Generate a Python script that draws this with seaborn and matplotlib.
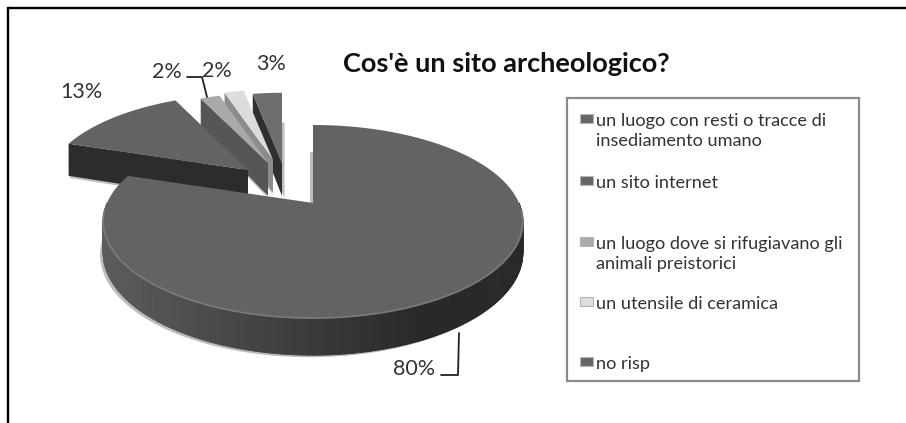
import numpy as np
import matplotlib
matplotlib.use("Agg")
import matplotlib.pyplot as plt
import seaborn as sns
from matplotlib.collections import PolyCollection
from matplotlib.patches import Rectangle
from matplotlib.path import Path
from matplotlib.transforms import Affine2D, Transform

# ---- data ----
categories = [
    "un luogo con resti o tracce di\ninsediamento umano",
    "un sito internet",
    "un luogo dove si rifugiavano gli\nanimali preistorici",
    "un utensile di ceramica",
    "no risp",
]
values = [80, 13, 2, 2, 3]
title = "Cos'è un sito archeologico?"

# ---- style ----
top_colors = ["#636363", "#636363", "#a9a9a9", "#dcdcdc", "#6e6e6e"]
face_colors = ["#3a3a3a", "#2c2c2c", "#565656", "#8c8c8c", "#303030"]
key_colors = ["#666666", "#666666", "#ababab", "#dddddd", "#666666"]
text_color = "#333333"

# ---- layout (pixels) ----
apex = [(313, 203), (248, 170), (268, 163), (273, 160), (282, 163)]
scale = [1.0, 0.97, 0.9, 0.9, 0.9]
depth = [30, 34, 33, 33, 33]
shadow_dx = [-3, 0, 0, 0, 2.5]
label_pos = [(414, 369), (81, 92), (167, 72), (217, 71), (271, 64)]
legend_y = [122, 184, 245, 305, 365]
K, BX, BY = 0.192, 206, 93

sns.set_theme(style="white")
plt.rcParams["font.family"] = ["Lato", "DejaVu Sans"]


class Perspective(Transform):
    """Tilted view of the unit-circle pie, in pixel coordinates."""
    input_dims = output_dims = 2
    is_separable = False
    has_inverse = False

    def __init__(self, centre, s=1.0, drop=0.0):
        super().__init__()
        self.centre, self.s, self.drop = centre, s, drop

    def transform_non_affine(self, xy):
        xy = np.asarray(xy, dtype=float)
        w = 1 + K * xy[:, 1]
        px = self.centre[0] + self.s * BX * xy[:, 0] / w
        py = self.centre[1] - self.s * BY * xy[:, 1] / w + self.drop / w
        return np.column_stack([px, py])

    def transform_path_non_affine(self, path):
        big = path.transformed(Affine2D().scale(2000))
        poly = np.concatenate(big.to_polygons(closed_only=False)) / 2000
        return Path(self.transform_non_affine(poly))


fig = plt.figure(figsize=(9.06, 4.23), dpi=100, facecolor="white")
ax = fig.add_axes([0, 0, 1, 1])

wedges, _ = ax.pie(values, startangle=90, counterclock=False, radius=1,
                   colors=top_colors, wedgeprops={"linewidth": 0})
ax.set_aspect("auto")
ax.set_xlim(0, 906)
ax.set_ylim(423, 0)
ax.axis("off")


def unit(theta):
    t = np.radians(theta)
    return np.column_stack([np.cos(t), np.sin(t)])


# far slices first, the big one last
for i in [4, 3, 2, 1, 0]:
    w = wedges[i]
    base = (4 - i) * 4
    top = Perspective(apex[i], scale[i])
    low = Perspective(apex[i], scale[i], depth[i])
    shade = Perspective((apex[i][0] + shadow_dx[i], apex[i][1] + 2), scale[i], depth[i])

    # soft shadow under the slice
    ax.fill(*shade.transform_non_affine(
        np.vstack([[[0, 0]], unit(np.linspace(w.theta1, w.theta2, 200))])).T,
        color="#bdbdbd", lw=0, zorder=1 + base)

    # radial face that looks at the viewer
    edge = np.vstack([unit([w.theta2]), [[0, 0]]])
    face = np.vstack([top.transform_non_affine(edge),
                      low.transform_non_affine(edge[::-1])])
    ax.fill(*face.T, color=face_colors[i], lw=0, zorder=2 + base)

    # outer wall, only for the part of the rim facing the viewer
    if i == 0:
        th = np.linspace(w.theta1, w.theta2, 241)
        th = th[(np.sin(np.radians(th)) <= 0.02)]
        pts = unit(th)
        up, dn = top.transform_non_affine(pts), low.transform_non_affine(pts)
        polys = [np.vstack([up[j], up[j + 1], dn[j + 1], dn[j]]) for j in range(len(th) - 1)]
        frac = (up[:-1, 0] - up[:, 0].min()) / np.ptp(up[:, 0])
        grey = 0.36 - 0.20 * np.clip(frac / 0.75, 0, 1)
        cols = [(g, g, g) for g in grey]
        ax.add_collection(PolyCollection(polys, facecolors=cols, edgecolors=cols,
                                         linewidths=0.6, zorder=2.5 + base))
        ax.plot(*up[4:-4].T, color="#7b7b7b", lw=1.2, zorder=4 + base)

    w.set_transform(top + ax.transData)
    w.set_zorder(3 + base)

# percentage labels
for v, (lx, ly) in zip(values, label_pos):
    ax.text(lx, ly, f"{v}%", ha="center", va="center", fontsize=15.5, color=text_color, zorder=30)

# leader lines
ax.plot([187, 202, 207], [77, 77, 97], color="#222222", lw=1.3, zorder=30)
ax.plot([441, 458, 459], [375, 375, 333], color="#222222", lw=1.3, zorder=30)

# title
ax.text(506, 64, title, ha="center", va="center", fontsize=19.5, fontweight="bold",
        color="#111111", zorder=30)

# legend
ax.add_patch(Rectangle((567, 98), 292, 283, fc="white", ec="#8a8a8a", lw=1.6, zorder=20))
for lab, col, y in zip(categories, key_colors, legend_y):
    ax.add_patch(Rectangle((579.5, y - 8), 13, 9, fc=col, ec="#b5b5b5", lw=0.8, zorder=21))
    ax.text(596, y - 9, lab, ha="left", va="top", fontsize=13.1, color=text_color,
            linespacing=1.27, zorder=22)

# outer frame: open at the bottom and on the right
ax.plot([8, 8], [423, 8], color="black", lw=1.7, zorder=30, solid_capstyle="projecting")
ax.plot([8, 906], [8, 8], color="black", lw=1.7, zorder=30, solid_capstyle="butt")

fig.savefig("out.png", dpi=100, facecolor="white")
